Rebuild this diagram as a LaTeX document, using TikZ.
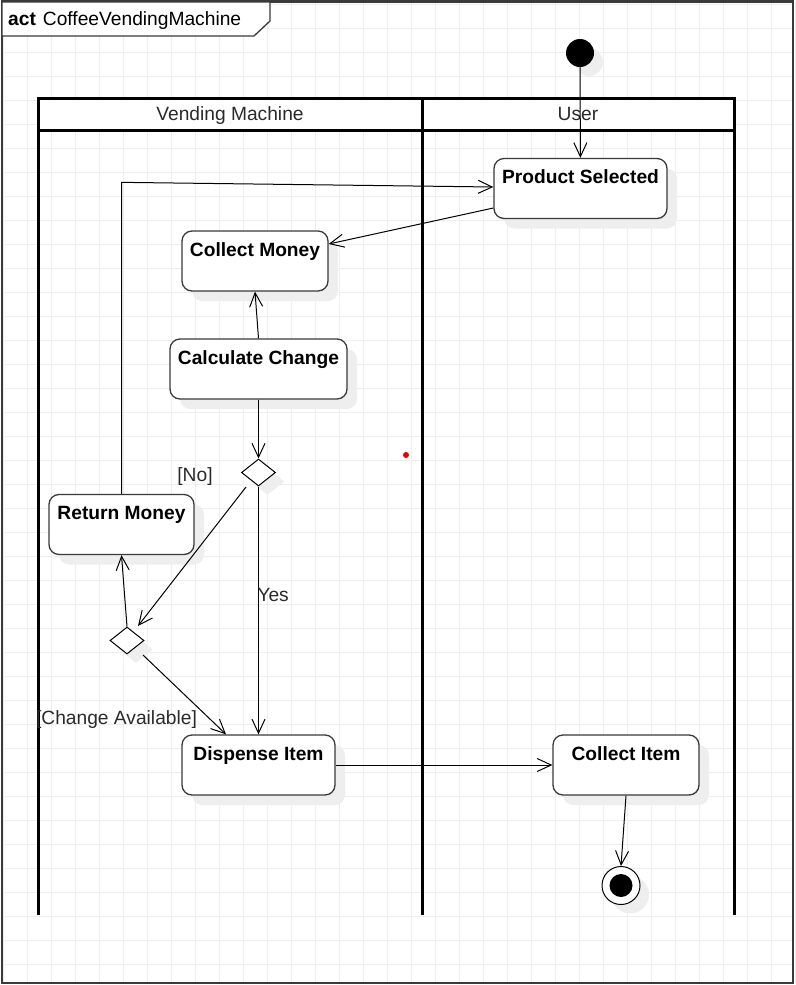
\documentclass[tikz,border=0pt]{standalone}
\usepackage{fontspec}
\setmainfont{Liberation Sans}
\usetikzlibrary{arrows.meta, shapes.geometric, shadows}
\definecolor{gridgray}{HTML}{EEEEEE}
\definecolor{framegray}{HTML}{3A3A3A}
\definecolor{shadowgray}{HTML}{EEEEEE}
\definecolor{labelgray}{HTML}{2A2A2A}
\tikzstyle{activity}=[rectangle, rounded corners=10pt, draw=framegray, line width=1.3pt, fill=white, inner sep=0pt, text height=25pt, text depth=35pt, font=\bfseries, drop shadow={shadow xshift=10pt, shadow yshift=-10pt, fill=shadowgray, opacity=1}]
\tikzstyle{decision}=[diamond, draw=black, line width=1pt, fill=white, inner sep=0pt, minimum width=34pt, minimum height=27pt, drop shadow={shadow xshift=9pt, shadow yshift=-9pt, fill=shadowgray, opacity=1}]
\tikzstyle{flow}=[line width=1pt, -{Straight Barb[length=14pt, width=13pt, line width=1pt]}]
\tikzstyle{guard}=[inner sep=0pt, anchor=base, text=labelgray]
\tikzstyle{lane}=[line width=3pt, black]
\newcommand{\activity}{\node[activity]}
\newcommand{\decision}{\node[decision]}

\begin{document}
\fontsize{19.2}{23}\selectfont
\begin{tikzpicture}[x=1pt, y=-1pt]
\useasboundingbox (0,0) rectangle (795,985);
% background grid
\foreach \gx in {3,27,...,795} \draw[gridgray, line width=1pt] (\gx,2) -- (\gx,983);
\foreach \gy in {4,28,...,985} \draw[gridgray, line width=1pt] (2,\gy) -- (793,\gy);
\draw[framegray, line width=2.5pt] (2,1.5) rectangle (793,983);
% frame title
\draw[framegray, line width=1.3pt, fill=white] (2,2) -- (270,2) -- (270,21) -- (254,36) -- (2,36) -- cycle;
\node[anchor=base west, inner sep=0pt] (title) at (8,25) {\textbf{act}\hspace{7pt}CoffeeVendingMachine};

% swimlanes
\draw[lane, fill=white] (38,98.5) rectangle (734,130);
\draw[lane] (38,130) -- (38,915);
\draw[lane] (422,98.5) -- (422,915);
\draw[lane] (734,130) -- (734,915);
\node[guard] (vmlane) at (230,120) {Vending Machine};
\node[guard] (userlane) at (578,120) {User};

% nodes
\node[circle, fill=black, minimum size=28pt, inner sep=0pt, drop shadow={shadow xshift=9pt, shadow yshift=-9pt, fill=shadowgray, opacity=1}] (init) at (580,53) {};
\activity[minimum width=173pt] (ps) at (580.5,188.5) {Product Selected};
\activity[minimum width=146pt] (cm) at (255,261) {Collect Money};
\activity[minimum width=177pt] (cc) at (258.5,369) {Calculate Change};
\decision (d1) at (258.5,472.5) {};
\activity[minimum width=145pt] (rm) at (121.5,524.5) {Return Money};
\decision (d2) at (127,640.5) {};
\activity[minimum width=153pt] (di) at (258.5,765) {Dispense Item};
\activity[minimum width=146pt] (ci) at (626,765) {Collect Item};
\node[circle, draw=black, line width=1pt, fill=white, minimum size=38pt, inner sep=0pt, drop shadow={shadow xshift=9pt, shadow yshift=-9pt, fill=shadowgray, opacity=1}, path picture={\fill[black] (path picture bounding box.center) circle (11.5pt);}] (final) at (621,885.5) {};

\node[guard] (nolabel) at (195,481) {[No]};
\node[guard] (availlabel) at (116.5,724) {[Change Available]};
\fill[red!90!black] (406,455) circle (3);

% connectors
\path[flow]
    (init) edge (ps)
    ([yshift=-19.5pt]ps.west) edge ([yshift=17pt]cm.east)
    (cc.north) edge (cm.south)
    (cc.south) edge (d1.north)
    ([shift={(-12.5pt,-14.5pt)}]d1.center) edge ([shift={(11pt,14.5pt)}]d2.center)
    (d2.north) edge (rm.south)
    ([shift={(16pt,-14.5pt)}]d2.center) edge ([xshift=-32.5pt]di.north)
    (d1.south) edge node[pos=0.462, anchor=base west, inner sep=0pt, xshift=-1.5pt, text=labelgray] (yeslabel) {Yes} (di.north)
    (di.east) edge (ci.west)
    (ci.south) edge (final.north)
;
\draw[flow] (rm.north) -- ++(0,-311.5) -- ([yshift=1.5pt]ps.west);
\end{tikzpicture}
\end{document}
